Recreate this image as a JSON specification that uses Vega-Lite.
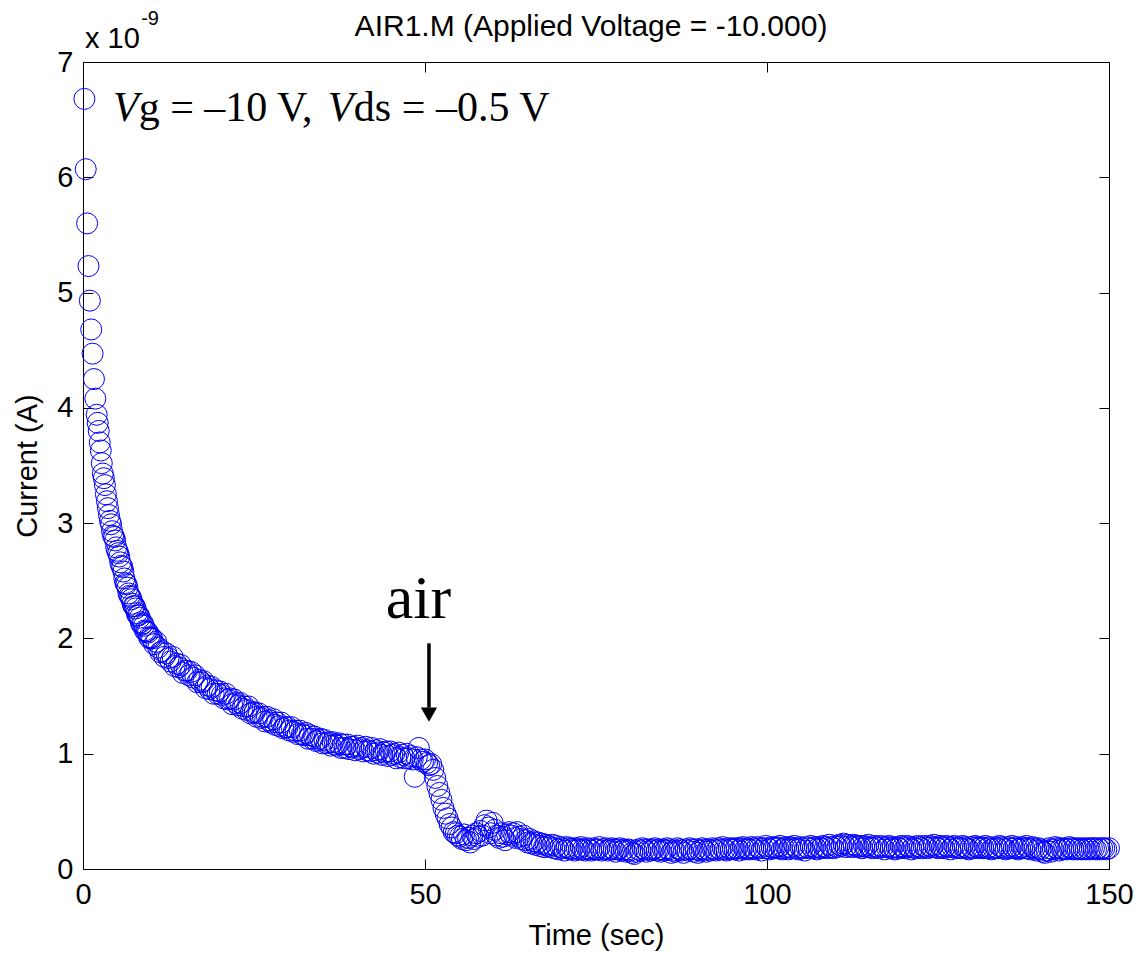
{
"$schema":"https://vega.github.io/schema/vega-lite/v6.json",
"width":1026,"height":807,
"autosize":{"type":"none"},
"padding":{"left":83,"top":62,"right":30,"bottom":86},
"background":"white",
"datasets":{"current":[
{"t":0.2,"i":6.68},{"t":0.4,"i":6.07},{"t":0.6,"i":5.6},{"t":0.8,"i":5.23},{"t":1.0,"i":4.93},{"t":1.2,"i":4.68},{"t":1.4,"i":4.47},{"t":1.6,"i":4.25},{"t":1.8,"i":4.08},{"t":2.0,"i":3.94},
{"t":2.15,"i":3.87},{"t":2.3,"i":3.8},{"t":2.45,"i":3.7},{"t":2.6,"i":3.63},{"t":2.75,"i":3.52},{"t":2.9,"i":3.43},{"t":3.05,"i":3.39},{"t":3.2,"i":3.33},{"t":3.35,"i":3.25},{"t":3.5,"i":3.19},
{"t":3.65,"i":3.13},{"t":3.8,"i":3.07},{"t":3.95,"i":3.02},{"t":4.1,"i":2.99},{"t":4.25,"i":2.93},{"t":4.4,"i":2.89},{"t":4.55,"i":2.88},{"t":4.7,"i":2.85},{"t":4.85,"i":2.79},{"t":5.0,"i":2.76},
{"t":5.15,"i":2.74},{"t":5.3,"i":2.71},{"t":5.45,"i":2.66},{"t":5.6,"i":2.63},{"t":5.75,"i":2.62},{"t":5.9,"i":2.58},{"t":6.05,"i":2.52},{"t":6.2,"i":2.48},{"t":6.35,"i":2.47},{"t":6.5,"i":2.44},
{"t":6.65,"i":2.39},{"t":6.8,"i":2.37},{"t":6.95,"i":2.36},{"t":7.1,"i":2.34},{"t":7.25,"i":2.3},{"t":7.4,"i":2.28},{"t":7.55,"i":2.28},{"t":7.7,"i":2.26},{"t":7.85,"i":2.22},{"t":8.0,"i":2.2},
{"t":8.15,"i":2.2},{"t":8.3,"i":2.18},{"t":8.45,"i":2.14},{"t":8.6,"i":2.12},{"t":8.75,"i":2.13},{"t":8.9,"i":2.11},{"t":9.05,"i":2.07},{"t":9.2,"i":2.06},{"t":9.35,"i":2.06},{"t":9.5,"i":2.05},
{"t":9.65,"i":2.01},{"t":9.8,"i":2.0},{"t":9.95,"i":2.01},
{"t":10.1,"i":2.0},{"t":10.4,"i":1.95},{"t":10.7,"i":1.97},{"t":11.0,"i":1.92},{"t":11.3,"i":1.88},{"t":11.6,"i":1.89},{"t":11.9,"i":1.84},{"t":12.2,"i":1.87},{"t":12.5,"i":1.83},{"t":12.8,"i":1.8},
{"t":13.1,"i":1.84},{"t":13.4,"i":1.76},{"t":13.7,"i":1.78},{"t":14.0,"i":1.75},{"t":14.3,"i":1.77},{"t":14.6,"i":1.7},{"t":14.9,"i":1.72},{"t":15.2,"i":1.72},{"t":15.5,"i":1.68},{"t":15.8,"i":1.71},
{"t":16.1,"i":1.66},{"t":16.4,"i":1.68},{"t":16.7,"i":1.62},{"t":17.0,"i":1.64},{"t":17.3,"i":1.62},{"t":17.6,"i":1.63},{"t":17.9,"i":1.57},{"t":18.2,"i":1.59},{"t":18.5,"i":1.56},{"t":18.8,"i":1.58},
{"t":19.1,"i":1.52},{"t":19.4,"i":1.55},{"t":19.7,"i":1.52},{"t":20.0,"i":1.54},{"t":20.3,"i":1.51},{"t":20.6,"i":1.48},{"t":20.9,"i":1.52},{"t":21.2,"i":1.47},{"t":21.5,"i":1.48},{"t":21.8,"i":1.43},
{"t":22.1,"i":1.47},{"t":22.4,"i":1.44},{"t":22.7,"i":1.42},{"t":23.0,"i":1.44},{"t":23.3,"i":1.39},{"t":23.6,"i":1.41},{"t":23.9,"i":1.38},{"t":24.2,"i":1.41},{"t":24.5,"i":1.35},{"t":24.8,"i":1.36},
{"t":25.1,"i":1.36},{"t":25.4,"i":1.32},{"t":25.7,"i":1.35},{"t":26.0,"i":1.31},{"t":26.3,"i":1.32},{"t":26.6,"i":1.28},{"t":26.9,"i":1.32},{"t":27.2,"i":1.29},{"t":27.5,"i":1.27},{"t":27.8,"i":1.3},
{"t":28.1,"i":1.25},{"t":28.4,"i":1.27},{"t":28.7,"i":1.24},{"t":29.0,"i":1.27},{"t":29.3,"i":1.22},{"t":29.6,"i":1.23},{"t":29.9,"i":1.23},{"t":30.2,"i":1.2},{"t":30.5,"i":1.23},{"t":30.8,"i":1.19},
{"t":31.1,"i":1.2},{"t":31.4,"i":1.17},{"t":31.7,"i":1.2},{"t":32.0,"i":1.17},{"t":32.3,"i":1.16},{"t":32.6,"i":1.18},{"t":32.9,"i":1.13},{"t":33.2,"i":1.16},{"t":33.5,"i":1.13},{"t":33.8,"i":1.15},
{"t":34.1,"i":1.11},{"t":34.4,"i":1.12},{"t":34.7,"i":1.13},{"t":35.0,"i":1.09},{"t":35.3,"i":1.12},{"t":35.6,"i":1.09},{"t":35.9,"i":1.1},{"t":36.2,"i":1.07},{"t":36.5,"i":1.1},{"t":36.8,"i":1.08},
{"t":37.1,"i":1.07},{"t":37.4,"i":1.09},{"t":37.7,"i":1.05},{"t":38.0,"i":1.08},{"t":38.3,"i":1.05},{"t":38.6,"i":1.08},{"t":38.9,"i":1.04},{"t":39.2,"i":1.06},{"t":39.5,"i":1.06},{"t":39.8,"i":1.03},
{"t":40.1,"i":1.07},{"t":40.4,"i":1.04},{"t":40.7,"i":1.05},{"t":41.0,"i":1.02},{"t":41.3,"i":1.06},{"t":41.6,"i":1.03},{"t":41.9,"i":1.02},{"t":42.2,"i":1.05},{"t":42.5,"i":1.0},{"t":42.8,"i":1.03},
{"t":43.1,"i":1.01},{"t":43.4,"i":1.04},{"t":43.7,"i":0.99},{"t":44.0,"i":1.01},{"t":44.3,"i":1.02},{"t":44.6,"i":0.98},{"t":44.9,"i":1.02},{"t":45.2,"i":0.99},{"t":45.5,"i":1.0},{"t":45.8,"i":0.96},
{"t":46.1,"i":1.01},{"t":46.4,"i":0.97},{"t":46.7,"i":0.99},{"t":47.0,"i":0.96},{"t":47.3,"i":1.0},{"t":47.6,"i":0.96},{"t":47.9,"i":0.98},
{"t":48.2,"i":0.95},{"t":48.5,"i":0.8},{"t":48.8,"i":0.97},{"t":49.1,"i":1.05},{"t":49.4,"i":0.95},{"t":49.7,"i":0.93},{"t":50.0,"i":0.95},{"t":50.3,"i":0.92},{"t":50.6,"i":0.9},{"t":50.9,"i":0.91},
{"t":51.2,"i":0.86},{"t":51.5,"i":0.79},{"t":51.8,"i":0.72},{"t":52.1,"i":0.66},{"t":52.4,"i":0.6},{"t":52.7,"i":0.53},{"t":53.0,"i":0.48},{"t":53.3,"i":0.44},{"t":53.6,"i":0.39},{"t":53.9,"i":0.36},
{"t":54.2,"i":0.32},{"t":54.5,"i":0.31},{"t":54.8,"i":0.29},{"t":55.1,"i":0.28},{"t":55.4,"i":0.26},{"t":55.7,"i":0.3},{"t":56.0,"i":0.25},{"t":56.3,"i":0.27},{"t":56.6,"i":0.23},{"t":56.9,"i":0.29},
{"t":57.2,"i":0.26},{"t":57.5,"i":0.31},{"t":57.8,"i":0.28},{"t":58.1,"i":0.33},{"t":58.4,"i":0.29},{"t":58.7,"i":0.38},{"t":59.0,"i":0.42},{"t":59.3,"i":0.36},{"t":59.6,"i":0.31},{"t":59.9,"i":0.4},
{"t":60.2,"i":0.34},{"t":60.5,"i":0.29},{"t":60.8,"i":0.27},{"t":61.1,"i":0.31},{"t":61.4,"i":0.28},{"t":61.7,"i":0.25},{"t":62.0,"i":0.3},{"t":62.3,"i":0.32},{"t":62.6,"i":0.29},{"t":62.9,"i":0.31},
{"t":63.2,"i":0.27},{"t":63.5,"i":0.32},{"t":63.8,"i":0.28},{"t":64.1,"i":0.26},{"t":64.4,"i":0.29},{"t":64.7,"i":0.25},{"t":65.0,"i":0.23},{"t":65.3,"i":0.26},{"t":65.6,"i":0.22},{"t":65.9,"i":0.24},
{"t":66.2,"i":0.21},{"t":66.5,"i":0.23},{"t":66.8,"i":0.2},{"t":67.1,"i":0.22},{"t":67.4,"i":0.19},{"t":67.7,"i":0.21},{"t":68.0,"i":0.2},
{"t":68.3,"i":0.19},{"t":68.6,"i":0.21},{"t":68.9,"i":0.18},{"t":69.2,"i":0.2},{"t":69.5,"i":0.17},{"t":69.8,"i":0.19},{"t":70.1,"i":0.18},{"t":70.4,"i":0.16},{"t":70.7,"i":0.19},{"t":71.0,"i":0.18},
{"t":71.3,"i":0.17},{"t":71.6,"i":0.18},{"t":71.9,"i":0.16},{"t":72.2,"i":0.18},{"t":72.5,"i":0.17},{"t":72.8,"i":0.19},{"t":73.1,"i":0.17},{"t":73.4,"i":0.16},{"t":73.7,"i":0.18},{"t":74.0,"i":0.17},
{"t":74.3,"i":0.16},{"t":74.6,"i":0.18},{"t":74.9,"i":0.17},{"t":75.2,"i":0.17},{"t":75.5,"i":0.19},{"t":75.8,"i":0.16},{"t":76.1,"i":0.17},{"t":76.4,"i":0.18},{"t":76.7,"i":0.16},{"t":77.0,"i":0.17},
{"t":77.3,"i":0.18},{"t":77.6,"i":0.17},{"t":77.9,"i":0.15},{"t":78.2,"i":0.17},{"t":78.5,"i":0.18},{"t":78.8,"i":0.16},{"t":79.1,"i":0.17},{"t":79.4,"i":0.15},{"t":79.7,"i":0.17},{"t":80.0,"i":0.16},
{"t":80.3,"i":0.14},{"t":80.6,"i":0.13},{"t":80.9,"i":0.15},{"t":81.2,"i":0.17},{"t":81.5,"i":0.16},{"t":81.8,"i":0.18},{"t":82.1,"i":0.17},{"t":82.4,"i":0.15},{"t":82.7,"i":0.17},{"t":83.0,"i":0.16},
{"t":83.3,"i":0.17},{"t":83.6,"i":0.18},{"t":83.9,"i":0.16},{"t":84.2,"i":0.17},{"t":84.5,"i":0.15},{"t":84.8,"i":0.17},{"t":85.1,"i":0.16},{"t":85.4,"i":0.18},{"t":85.7,"i":0.17},{"t":86.0,"i":0.14},
{"t":86.3,"i":0.16},{"t":86.6,"i":0.15},{"t":86.9,"i":0.18},{"t":87.2,"i":0.17},{"t":87.5,"i":0.16},{"t":87.8,"i":0.14},{"t":88.1,"i":0.17},{"t":88.4,"i":0.16},{"t":88.7,"i":0.18},{"t":89.0,"i":0.17},
{"t":89.3,"i":0.15},{"t":89.6,"i":0.17},{"t":89.9,"i":0.14},{"t":90.2,"i":0.16},{"t":90.5,"i":0.18},{"t":90.8,"i":0.17},{"t":91.1,"i":0.15},{"t":91.4,"i":0.17},{"t":91.7,"i":0.16},{"t":92.0,"i":0.18},
{"t":92.3,"i":0.17},{"t":92.6,"i":0.16},{"t":92.9,"i":0.18},{"t":93.2,"i":0.17},{"t":93.5,"i":0.19},{"t":93.8,"i":0.17},{"t":94.1,"i":0.16},{"t":94.4,"i":0.18},{"t":94.7,"i":0.17},{"t":95.0,"i":0.18},
{"t":95.3,"i":0.17},{"t":95.6,"i":0.18},{"t":95.9,"i":0.16},{"t":96.2,"i":0.18},{"t":96.5,"i":0.19},{"t":96.8,"i":0.17},{"t":97.1,"i":0.18},{"t":97.4,"i":0.17},{"t":97.7,"i":0.19},{"t":98.0,"i":0.18},
{"t":98.3,"i":0.17},{"t":98.6,"i":0.19},{"t":98.9,"i":0.18},{"t":99.2,"i":0.16},{"t":99.5,"i":0.18},{"t":99.8,"i":0.2},{"t":100.1,"i":0.18},{"t":100.4,"i":0.17},{"t":100.7,"i":0.19},{"t":101.0,"i":0.18},
{"t":101.3,"i":0.19},{"t":101.6,"i":0.18},{"t":101.9,"i":0.2},{"t":102.2,"i":0.17},{"t":102.5,"i":0.18},{"t":102.8,"i":0.19},{"t":103.1,"i":0.17},{"t":103.4,"i":0.19},{"t":103.7,"i":0.18},{"t":104.0,"i":0.2},
{"t":104.3,"i":0.18},{"t":104.6,"i":0.17},{"t":104.9,"i":0.19},{"t":105.2,"i":0.18},{"t":105.5,"i":0.16},{"t":105.8,"i":0.19},{"t":106.1,"i":0.18},{"t":106.4,"i":0.2},{"t":106.7,"i":0.18},{"t":107.0,"i":0.19},
{"t":107.3,"i":0.17},{"t":107.6,"i":0.19},{"t":107.9,"i":0.18},{"t":108.2,"i":0.2},{"t":108.5,"i":0.19},{"t":108.8,"i":0.18},{"t":109.1,"i":0.21},{"t":109.4,"i":0.19},{"t":109.7,"i":0.18},{"t":110.0,"i":0.2},
{"t":110.3,"i":0.19},{"t":110.6,"i":0.21},{"t":110.9,"i":0.2},{"t":111.2,"i":0.22},{"t":111.5,"i":0.19},{"t":111.8,"i":0.21},{"t":112.1,"i":0.2},{"t":112.4,"i":0.19},{"t":112.7,"i":0.21},{"t":113.0,"i":0.2},
{"t":113.3,"i":0.19},{"t":113.6,"i":0.2},{"t":113.9,"i":0.18},{"t":114.2,"i":0.2},{"t":114.5,"i":0.19},{"t":114.8,"i":0.21},{"t":115.1,"i":0.19},{"t":115.4,"i":0.18},{"t":115.7,"i":0.2},{"t":116.0,"i":0.19},
{"t":116.3,"i":0.18},{"t":116.6,"i":0.2},{"t":116.9,"i":0.19},{"t":117.2,"i":0.17},{"t":117.5,"i":0.19},{"t":117.8,"i":0.2},{"t":118.1,"i":0.18},{"t":118.4,"i":0.19},{"t":118.7,"i":0.17},{"t":119.0,"i":0.19},
{"t":119.3,"i":0.18},{"t":119.6,"i":0.2},{"t":119.9,"i":0.19},{"t":120.2,"i":0.18},{"t":120.5,"i":0.2},{"t":120.8,"i":0.19},{"t":121.1,"i":0.17},{"t":121.4,"i":0.19},{"t":121.7,"i":0.18},{"t":122.0,"i":0.2},
{"t":122.3,"i":0.19},{"t":122.6,"i":0.18},{"t":122.9,"i":0.2},{"t":123.2,"i":0.19},{"t":123.5,"i":0.18},{"t":123.8,"i":0.2},{"t":124.1,"i":0.19},{"t":124.4,"i":0.21},{"t":124.7,"i":0.19},{"t":125.0,"i":0.18},
{"t":125.3,"i":0.2},{"t":125.6,"i":0.19},{"t":125.9,"i":0.18},{"t":126.2,"i":0.2},{"t":126.5,"i":0.19},{"t":126.8,"i":0.17},{"t":127.1,"i":0.19},{"t":127.4,"i":0.2},{"t":127.7,"i":0.18},{"t":128.0,"i":0.19},
{"t":128.3,"i":0.18},{"t":128.6,"i":0.2},{"t":128.9,"i":0.19},{"t":129.2,"i":0.18},{"t":129.5,"i":0.17},{"t":129.8,"i":0.19},{"t":130.1,"i":0.18},{"t":130.4,"i":0.2},{"t":130.7,"i":0.19},{"t":131.0,"i":0.18},
{"t":131.3,"i":0.19},{"t":131.6,"i":0.18},{"t":131.9,"i":0.2},{"t":132.2,"i":0.18},{"t":132.5,"i":0.19},{"t":132.8,"i":0.17},{"t":133.1,"i":0.18},{"t":133.4,"i":0.19},{"t":133.7,"i":0.18},{"t":134.0,"i":0.2},
{"t":134.3,"i":0.19},{"t":134.6,"i":0.18},{"t":134.9,"i":0.17},{"t":135.2,"i":0.19},{"t":135.5,"i":0.18},{"t":135.8,"i":0.2},{"t":136.1,"i":0.18},{"t":136.4,"i":0.19},{"t":136.7,"i":0.17},{"t":137.0,"i":0.18},
{"t":137.3,"i":0.19},{"t":137.6,"i":0.18},{"t":137.9,"i":0.2},{"t":138.2,"i":0.18},{"t":138.5,"i":0.17},{"t":138.8,"i":0.19},{"t":139.1,"i":0.18},{"t":139.4,"i":0.16},{"t":139.7,"i":0.18},{"t":140.0,"i":0.17},
{"t":140.3,"i":0.15},{"t":140.6,"i":0.14},{"t":140.9,"i":0.16},{"t":141.2,"i":0.18},{"t":141.5,"i":0.15},{"t":141.8,"i":0.17},{"t":142.1,"i":0.19},{"t":142.4,"i":0.18},{"t":142.7,"i":0.16},{"t":143.0,"i":0.18},
{"t":143.3,"i":0.17},{"t":143.6,"i":0.18},{"t":143.9,"i":0.17},{"t":144.2,"i":0.19},{"t":144.5,"i":0.18},{"t":144.8,"i":0.17},{"t":145.1,"i":0.18},{"t":145.4,"i":0.17},{"t":145.7,"i":0.18},{"t":146.0,"i":0.17},
{"t":146.3,"i":0.18},{"t":146.6,"i":0.17},{"t":146.9,"i":0.18},{"t":147.2,"i":0.17},{"t":147.5,"i":0.18},{"t":147.8,"i":0.18},{"t":148.1,"i":0.17},{"t":148.4,"i":0.18},{"t":148.7,"i":0.17},{"t":149.0,"i":0.18},
{"t":149.3,"i":0.18},{"t":149.6,"i":0.17},{"t":150.0,"i":0.18}
],
"one":[{}]},
"layer":[
{"data":{"name":"current"},
 "mark":{"type":"point","shape":"circle","filled":false,"color":"#0000ff","size":441,"strokeWidth":1,"opacity":1},
 "encoding":{
  "x":{"field":"t","type":"quantitative","scale":{"domain":[0,150],"nice":false,"zero":false},
   "axis":{"orient":"bottom","values":[0,50,100,150],"format":"d","tickSize":-10,"tickColor":"black","tickWidth":1,"domainColor":"black","domainWidth":1,"labelPadding":21,"labelFont":"Liberation Sans","labelFontSize":29,"labelColor":"black","labelFlush":false,"labelOverlap":false,"grid":false,"title":"Time (sec)","titleFont":"Liberation Sans","titleFontSize":29,"titleFontWeight":"normal","titleColor":"black","titlePadding":12}},
  "y":{"field":"i","type":"quantitative","scale":{"domain":[0,7],"nice":false,"zero":false},
   "axis":{"orient":"left","values":[0,1,2,3,4,5,6,7],"format":"d","tickSize":-10,"tickColor":"black","tickWidth":1,"domainColor":"black","domainWidth":1,"labelPadding":20,"labelFont":"Liberation Sans","labelFontSize":29,"labelColor":"black","labelOverlap":false,"grid":false,"title":"Current (A)","titleFont":"Liberation Sans","titleFontSize":29,"titleFontWeight":"normal","titleColor":"black","titlePadding":14}}
 }},
{"data":{"values":[{"t":0,"i":0}]},
 "mark":{"type":"point","opacity":0},
 "encoding":{
  "x":{"field":"t","type":"quantitative","axis":{"orient":"top","values":[0,50,100,150],"tickSize":-10,"tickColor":"black","labels":false,"domain":false,"grid":false,"title":null}},
  "y":{"field":"i","type":"quantitative","axis":{"orient":"right","values":[0,1,2,3,4,5,6,7],"tickSize":-10,"tickColor":"black","labels":false,"domain":false,"grid":false,"title":null}}
 }},
{"data":{"name":"one"},
 "mark":{"type":"text","font":"Liberation Sans","fontSize":30,"align":"center","baseline":"alphabetic","color":"black","text":"AIR1.M (Applied Voltage = -10.000)"},
 "encoding":{"x":{"datum":74.27,"type":"quantitative","axis":null},"y":{"datum":7.225,"type":"quantitative","axis":null}}},
{"data":{"name":"one"},
 "mark":{"type":"text","font":"Liberation Sans","fontSize":29,"align":"left","baseline":"alphabetic","color":"black","text":"x 10"},
 "encoding":{"x":{"datum":0.3,"type":"quantitative","axis":null},"y":{"datum":7.12,"type":"quantitative","axis":null}}},
{"data":{"name":"one"},
 "mark":{"type":"text","font":"Liberation Sans","fontSize":20,"align":"left","baseline":"alphabetic","color":"black","text":"-9"},
 "encoding":{"x":{"datum":8.5,"type":"quantitative","axis":null},"y":{"datum":7.32,"type":"quantitative","axis":null}}},
{"data":{"name":"one"},
 "mark":{"type":"text","font":"Liberation Serif","fontSize":42,"fontStyle":"italic","align":"left","baseline":"alphabetic","color":"black","text":"V"},
 "encoding":{"x":{"datum":4.39,"type":"quantitative","axis":null},"y":{"datum":6.487,"type":"quantitative","axis":null}}},
{"data":{"name":"one"},
 "mark":{"type":"text","font":"Liberation Serif","fontSize":42,"align":"left","baseline":"alphabetic","color":"black","text":"g = –10 V,"},
 "encoding":{"x":{"datum":8.14,"type":"quantitative","axis":null},"y":{"datum":6.487,"type":"quantitative","axis":null}}},
{"data":{"name":"one"},
 "mark":{"type":"text","font":"Liberation Serif","fontSize":42,"fontStyle":"italic","align":"left","baseline":"alphabetic","color":"black","text":"V"},
 "encoding":{"x":{"datum":35.8,"type":"quantitative","axis":null},"y":{"datum":6.487,"type":"quantitative","axis":null}}},
{"data":{"name":"one"},
 "mark":{"type":"text","font":"Liberation Serif","fontSize":42,"align":"left","baseline":"alphabetic","color":"black","text":"ds = –0.5 V"},
 "encoding":{"x":{"datum":39.6,"type":"quantitative","axis":null},"y":{"datum":6.487,"type":"quantitative","axis":null}}},
{"data":{"name":"one"},
 "mark":{"type":"text","font":"Liberation Serif","fontSize":62,"align":"center","baseline":"alphabetic","color":"black","text":"air"},
 "encoding":{"x":{"datum":49.05,"type":"quantitative","axis":null},"y":{"datum":2.177,"type":"quantitative","axis":null}}},
{"data":{"name":"one"},
 "mark":{"type":"rule","color":"black","strokeWidth":3.5},
 "encoding":{"x":{"datum":50.58,"type":"quantitative","axis":null},"y":{"datum":1.957,"type":"quantitative","axis":null},"y2":{"datum":1.4}}},
{"data":{"name":"one"},
 "mark":{"type":"point","shape":"triangle-down","filled":true,"color":"black","size":266,"opacity":1,"strokeWidth":0},
 "encoding":{"x":{"datum":50.58,"type":"quantitative","axis":null},"y":{"datum":1.339,"type":"quantitative","axis":null}}}
],
"resolve":{"axis":{"x":"independent","y":"independent"}},
"config":{"view":{"stroke":"black","strokeWidth":1},"font":"Liberation Sans"}
}
